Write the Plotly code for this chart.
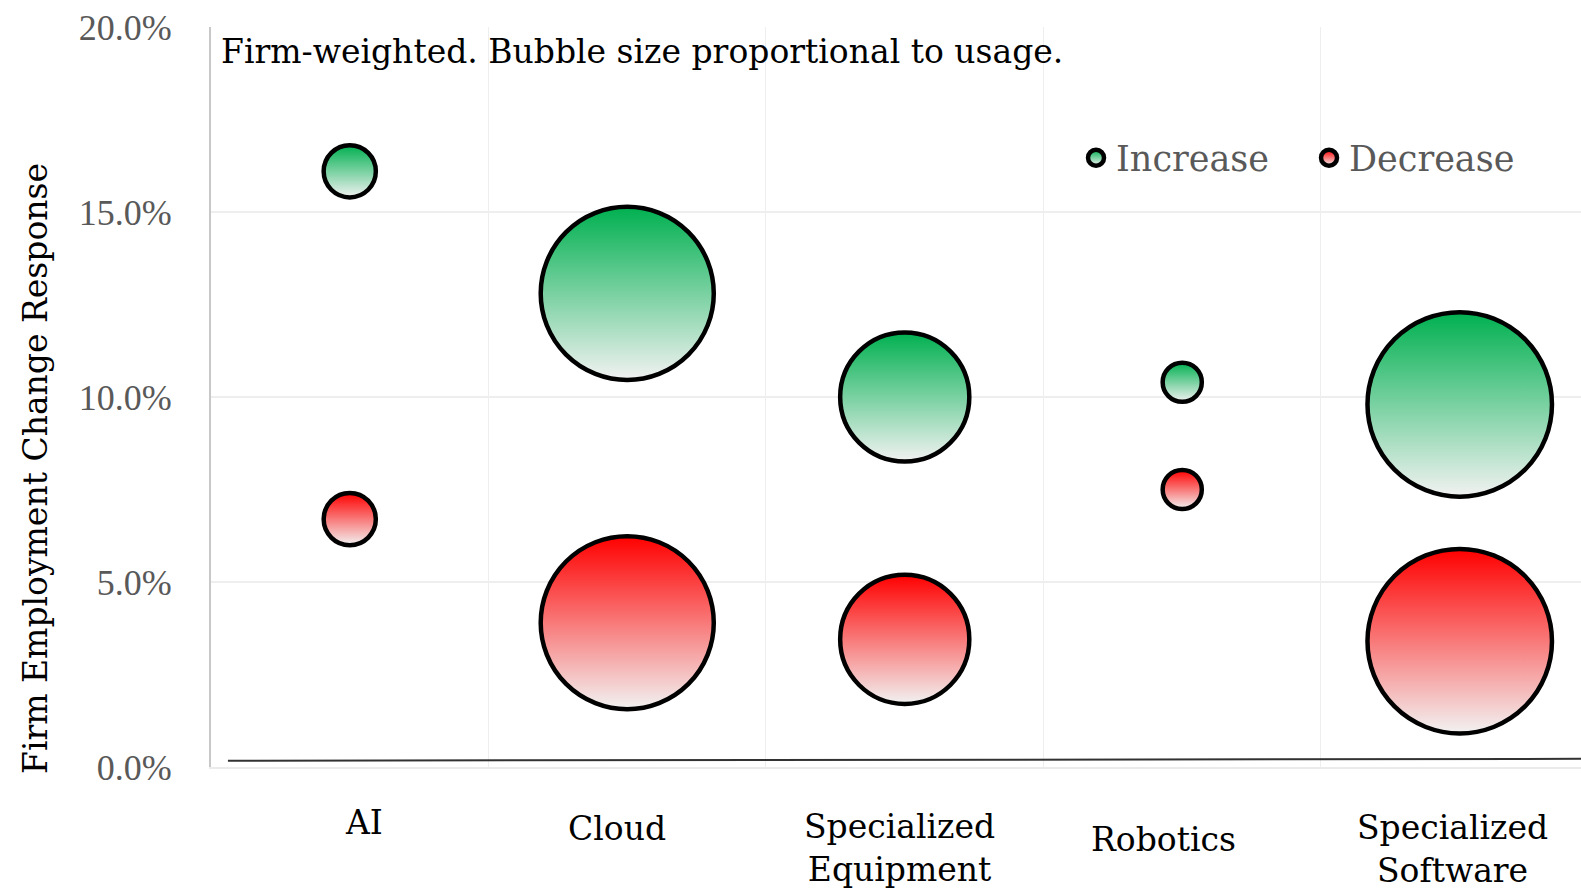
import plotly.graph_objects as go

# ---- data ----
categories = ["AI", "Cloud", "Specialized<br>Equipment", "Robotics", "Specialized<br>Software"]
increase = [0.161, 0.128, 0.100, 0.104, 0.098]
decrease = [0.067, 0.039, 0.0345, 0.075, 0.034]
usage = [3.2, 35.2, 19.6, 1.8, 40.0]
y_tickvals = [0.0, 0.05, 0.10, 0.15, 0.20]
baseline_y = [0.0017, 0.0022]

# ---- layout helpers ----
FONT = "DejaVu Serif, Liberation Serif, serif"
TICKFONT = "Liberation Serif, DejaVu Serif, serif"
W, H = 1581, 890
ML, MT, MB, MR = 211, 27, 123, 0
x_pos = list(range(len(categories)))
x_range = [-0.5, 4.437]
sizeref = 2 * max(usage) / 184.5 ** 2

GREEN = "rgb(0,176,80)"
RED = "rgb(255,0,0)"
LIGHT = "rgb(242,242,242)"

fig = go.Figure()

fig.add_trace(go.Scatter(
    x=[x_range[0] + 0.061, x_range[1]], y=baseline_y, mode="lines",
    line=dict(color="rgb(50,50,50)", width=2), showlegend=False, hoverinfo="skip"))

for name, vals, col in [("Increase", increase, GREEN), ("Decrease", decrease, RED)]:
    fig.add_trace(go.Scatter(
        x=x_pos, y=vals, mode="markers", name=name,
        marker=dict(size=usage, sizemode="area", sizeref=sizeref, color=col,
                    gradient=dict(type="vertical", color=LIGHT),
                    line=dict(color="black", width=4.5), opacity=1),
    ))

# category labels (offsets in px relative to bubble centre / plot bottom)
label_dx = [14, -10, -5, -19, -7]
label_dy = [55, 61, 81, 72, 82]
annotations = []
for xp, lab, dx, dy in zip(x_pos, categories, label_dx, label_dy):
    annotations.append(dict(x=xp, y=0, xref="x", yref="paper", text=lab, showarrow=False,
                            xshift=dx, yshift=-dy, xanchor="center", yanchor="middle",
                            font=dict(family=FONT, size=33, color="black")))

annotations.append(dict(x=0, y=1, xref="paper", yref="paper", xanchor="left", yanchor="top",
                        xshift=8, yshift=-3,
                        text="Firm-weighted. Bubble size proportional to usage.", showarrow=False,
                        font=dict(family=FONT, size=33, color="black")))
annotations.append(dict(x=0, y=0.5, xref="paper", yref="paper", xanchor="center", yanchor="middle",
                        xshift=-(ML - 35), yshift=-(469 - (MT + 740 / 2)),
                        text="Firm Employment Change Response", textangle=-90, showarrow=False,
                        font=dict(family=FONT, size=33, color="black")))

fig.update_layout(
    width=W, height=H,
    margin=dict(l=ML, r=MR, t=MT, b=MB, pad=0),
    paper_bgcolor="white", plot_bgcolor="white",
    font=dict(family=FONT, size=33, color="rgb(89,89,89)"),
    showlegend=True,
    legend=dict(orientation="h", x=0.6314, y=0.823, xanchor="left", yanchor="middle",
                font=dict(family=FONT, size=35, color="rgb(89,89,89)"),
                bgcolor="rgba(0,0,0,0)", itemwidth=30, entrywidth=188, entrywidthmode="pixels"),
    annotations=annotations,
)
fig.update_xaxes(range=x_range, showgrid=False, zeroline=False, showticklabels=False,
                 tickvals=x_pos, ticks="",
                 minor=dict(tickvals=[0.5, 1.5, 2.5, 3.5], showgrid=True, gridcolor="rgb(238,238,238)", gridwidth=1),
                 showline=True, linecolor="rgb(235,235,235)", linewidth=2, mirror=False)
fig.update_yaxes(range=[0, 0.2], tickvals=y_tickvals, tickformat=".1%", showgrid=True,
                 gridcolor="rgb(238,238,238)", gridwidth=2, zeroline=False,
                 showline=True, linecolor="rgb(200,200,200)", linewidth=2,
                 ticklabelstandoff=30, tickfont=dict(family=TICKFONT, size=36, color="rgb(89,89,89)"))

fig.write_html("out.html")
